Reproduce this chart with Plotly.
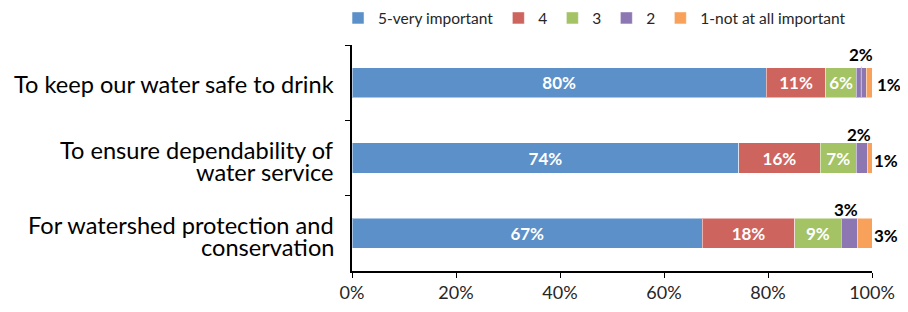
import plotly.graph_objects as go

categories = [
    "To keep our water safe to drink",
    "To ensure dependability of<br>water service",
    "For watershed protection and<br>conservation",
]
series_names = ["5-very important", "4", "3", "2", "1-not at all important"]
v5 = [79.7, 74.4, 67.4]
v4 = [11.4, 15.6, 17.7]
v3 = [5.9, 7.0, 9.0]
v2 = [1.9, 2.1, 3.1]
v1 = [1.1, 0.9, 2.8]
x_ticks = [0, 20, 40, 60, 80, 100]
x_tick_labels = ["0%", "20%", "40%", "60%", "80%", "100%"]

colors = ["#5B90C8", "#CE645E", "#A3C365", "#8D77B3", "#F8A15A"]
series = [v5, v4, v3, v2, v1]

FONT = "Lato"
fig = go.Figure()
for name, vals, col in zip(series_names, series, colors):
    txt = [f"{round(v)}%" if v >= 5 else "" for v in vals]
    fig.add_trace(go.Bar(
        name=name, y=categories, x=vals, orientation="h",
        marker=dict(color=col, line=dict(color="rgba(255,255,255,0.5)", width=1)),
        text=txt, textposition="inside", insidetextanchor="middle",
        textfont=dict(color="white", size=17, family=FONT, weight="bold"),
        hoverinfo="skip",
    ))

annos = []
lab_font = dict(color="black", size=17, family=FONT, weight="bold")
for i in range(3):
    center = v5[i] + v4[i] + v3[i] + v2[i] / 2
    if i == 0:
        annos.append(dict(x=center, y=categories[i], text=f"{round(v2[i])}%",
                          showarrow=True, arrowhead=0, arrowwidth=1,
                          arrowcolor="#c8c8c8", ax=0, ay=-43, yshift=-15,
                          font=lab_font))
    else:
        annos.append(dict(x=center, y=categories[i], text=f"{round(v2[i])}%",
                          showarrow=False, yshift=24, xshift=-3,
                          font=lab_font))
    total = min(round(v5[i] + v4[i] + v3[i] + v2[i] + v1[i], 6), 100)
    annos.append(dict(x=total, y=categories[i], text=f"{round(v1[i])}%",
                      showarrow=False, xanchor="left",
                      xshift=3 if i == 0 else 0, yshift=-2,
                      font=lab_font))

# category labels (tight line spacing like the original)
LINE = 22
for cat in categories:
    lines = cat.split("<br>")
    n = len(lines)
    for k, line in enumerate(lines):
        annos.append(dict(x=0, xref="paper", y=cat, yref="y", text=line,
                          showarrow=False, xanchor="right", yanchor="middle",
                          xshift=-16,
                          yshift=((n - 1) / 2 - k) * LINE - (2.5 if n > 1 else 1),
                          font=dict(size=23.6, family=FONT, color="black")))

fig.update_layout(
    barmode="stack",
    bargap=0.6,
    width=892, height=296,
    margin=dict(l=344, r=28, t=37, b=33, autoexpand=False),
    paper_bgcolor="white", plot_bgcolor="white",
    font=dict(family=FONT, color="black"),
    legend=dict(orientation="h", x=0.37, xanchor="left", xref="container",
                y=0.965, yanchor="middle", yref="container",
                font=dict(size=15.5, family=FONT, color="#262626"),
                traceorder="normal", itemwidth=30),
    annotations=annos,
    xaxis=dict(range=[0, 100], tickvals=x_ticks, ticktext=x_tick_labels,
               showgrid=False, zeroline=False, showline=True, linecolor="black",
               linewidth=1.5, ticks="outside", ticklen=5, tickcolor="black",
               automargin=False,
               tickfont=dict(size=18, family=FONT, color="#262626")),
    yaxis=dict(autorange="reversed", showgrid=False, zeroline=False,
               showline=True, linecolor="black", linewidth=1.5,
               ticks="outside", tickson="boundaries", ticklen=5, tickcolor="black",
               showticklabels=False, automargin=False),
)
fig.write_html("out.html")
